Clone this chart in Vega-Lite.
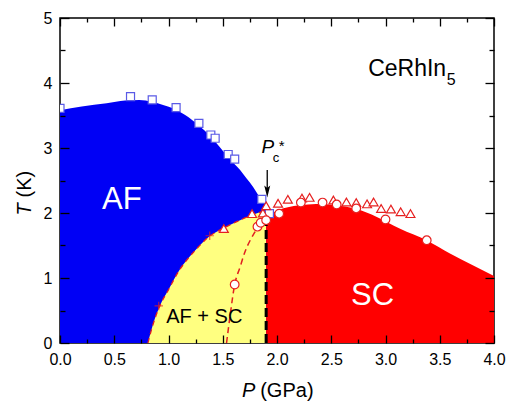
{
  "$schema": "https://vega.github.io/schema/vega-lite/v6.json",
  "width": 434,
  "height": 325,
  "autosize": "none",
  "padding": {"left": 60, "top": 18, "right": 15, "bottom": 59},
  "background": "white",
  "config": {
    "font": "Liberation Sans",
    "view": {"stroke": "black", "strokeWidth": 1.5},
    "axis": {"domain": false, "grid": false, "labelColor": "black", "tickColor": "black", "titleColor": "black", "labelFont": "Liberation Sans", "titleFont": "Liberation Sans", "titleFontWeight": "normal", "labelFlush": false, "labelOverlap": false, "tickWidth": 1.3}
  },
  "datasets": {
    "afTop": [{"P":0,"T":3.58},{"P":0.2,"T":3.64},{"P":0.43,"T":3.69},{"P":0.6,"T":3.73},{"P":0.73,"T":3.74},{"P":0.85,"T":3.71},{"P":0.95,"T":3.66},{"P":1.04,"T":3.61},{"P":1.15,"T":3.51},{"P":1.29,"T":3.33},{"P":1.38,"T":3.19},{"P":1.47,"T":3.02},{"P":1.56,"T":2.84},{"P":1.66,"T":2.66},{"P":1.72,"T":2.53},{"P":1.78,"T":2.4},{"P":1.83,"T":2.27},{"P":1.87,"T":2.17},{"P":1.92,"T":2.07}],
    "mixed": [{"P":0.81,"T":0},{"P":0.86,"T":0.3},{"P":0.92,"T":0.57},{"P":1.0,"T":0.82},{"P":1.1,"T":1.12},{"P":1.18,"T":1.3},{"P":1.26,"T":1.45},{"P":1.37,"T":1.63},{"P":1.51,"T":1.77},{"P":1.66,"T":1.89},{"P":1.77,"T":1.97},{"P":1.9,"T":2.04}],
    "sc": [{"P":1.9,"T":1.93},{"P":1.95,"T":1.99},{"P":2.02,"T":2.05},{"P":2.1,"T":2.09},{"P":2.21,"T":2.12},{"P":2.36,"T":2.14},{"P":2.55,"T":2.12},{"P":2.73,"T":2.06},{"P":2.92,"T":1.94},{"P":3.13,"T":1.76},{"P":3.39,"T":1.57},{"P":3.59,"T":1.38},{"P":3.8,"T":1.2},{"P":4.0,"T":1.03}],
    "dash2": [{"P":1.535,"T":0},{"P":1.57,"T":0.45},{"P":1.61,"T":0.9},{"P":1.66,"T":1.17},{"P":1.7,"T":1.38},{"P":1.79,"T":1.69},{"P":1.86,"T":1.87},{"P":1.9,"T":1.97}],
    "squares": [{"P":0.0,"T":3.61},{"P":0.65,"T":3.79},{"P":0.85,"T":3.74},{"P":1.07,"T":3.62},{"P":1.28,"T":3.38},{"P":1.39,"T":3.2},{"P":1.43,"T":3.15},{"P":1.55,"T":2.9},{"P":1.61,"T":2.83},{"P":1.86,"T":2.21},{"P":1.93,"T":1.99}],
    "triangles": [{"P":1.51,"T":1.76},{"P":1.77,"T":1.99},{"P":1.87,"T":2.0},{"P":1.9,"T":2.11},{"P":2.01,"T":2.15},{"P":2.1,"T":2.21},{"P":2.23,"T":2.23},{"P":2.3,"T":2.24},{"P":2.52,"T":2.2},{"P":2.64,"T":2.17},{"P":2.73,"T":2.16},{"P":2.83,"T":2.14},{"P":2.89,"T":2.17},{"P":2.96,"T":2.07},{"P":3.05,"T":2.06},{"P":3.14,"T":2.02},{"P":3.23,"T":1.99}],
    "circles": [{"P":1.61,"T":0.9},{"P":1.82,"T":1.79},{"P":1.85,"T":1.85},{"P":1.9,"T":1.89},{"P":2.02,"T":1.99},{"P":2.22,"T":2.16},{"P":2.42,"T":2.16},{"P":2.55,"T":2.13},{"P":2.73,"T":2.07},{"P":3.0,"T":1.9},{"P":3.38,"T":1.58}],
    "plus": [{"P":0.91,"T":0.57},{"P":1.38,"T":1.65}]
  },
  "layer": [
    {
      "data": {"name": "afTop"},
      "mark": {"type": "area", "color": "#0000f5", "interpolate": "monotone"},
      "encoding": {
        "x": {"field": "P", "type": "quantitative", "scale": {"domain": [0, 4], "nice": false, "zero": false},
          "axis": {"orient": "bottom", "zindex": 2, "values": [0,0.5,1,1.5,2,2.5,3,3.5,4],
            "tickSize": -8,
            "format": ".1f",
            "labelFontSize": 16, "labelPadding": 16,
            "title": "(GPa)", "titleFontSize": 20, "titleX": 199.7, "titleY": 53, "titleAlign": "left", "titleBaseline": "alphabetic"}},
        "y": {"field": "T", "type": "quantitative", "stack": null, "scale": {"domain": [0, 5], "nice": false},
          "axis": {"orient": "left", "zindex": 2, "values": [0,1,2,3,4,5],
            "tickSize": -9,
            "format": "d",
            "labelFontSize": 16, "labelPadding": 17,
            "title": "(K)", "titleFontSize": 20, "titleAngle": 270, "titleX": -30, "titleY": 179, "titleAlign": "left", "titleBaseline": "alphabetic"}}
      }
    },
    {
      "data": {"name": "mixed"},
      "mark": {"type": "area", "color": "#ffff80", "interpolate": "monotone"},
      "encoding": {
        "x": {"field": "P", "type": "quantitative",
          "axis": {"orient": "top", "zindex": 2, "values": [0,0.5,1,1.5,2,2.5,3,3.5,4],
            "tickSize": -8, "labels": false,
            "title": "P", "titleFontSize": 20, "titleFontStyle": "italic", "titleX": 181.4, "titleY": 378, "titleAlign": "left", "titleBaseline": "alphabetic"}},
        "y": {"field": "T", "type": "quantitative", "stack": null,
          "axis": {"orient": "right", "zindex": 2, "values": [0,1,2,3,4,5],
            "tickSize": -9, "labels": false,
            "title": "T", "titleFontSize": 20, "titleFontStyle": "italic", "titleAngle": 270, "titleX": -464, "titleY": 197, "titleAlign": "left", "titleBaseline": "alphabetic"}}
      }
    },
    {
      "data": {"name": "sc"},
      "mark": {"type": "area", "color": "#ff0000", "interpolate": "monotone"},
      "encoding": {
        "x": {"field": "P", "type": "quantitative",
          "axis": {"orient": "bottom", "zindex": 2, "values": [0.25,0.75,1.25,1.75,2.25,2.75,3.25,3.75], "tickSize": -4, "labels": false, "title": null}},
        "y": {"field": "T", "type": "quantitative", "stack": null,
          "axis": {"orient": "left", "zindex": 2, "values": [0.5,1.5,2.5,3.5,4.5], "tickSize": -5, "labels": false, "title": null}}
      }
    },
    {
      "data": {"name": "mixed"},
      "mark": {"type": "line", "color": "#e02020", "strokeWidth": 1.3, "strokeDash": [5, 4], "interpolate": "monotone"},
      "encoding": {
        "x": {"field": "P", "type": "quantitative",
          "axis": {"orient": "top", "zindex": 2, "values": [0.25,0.75,1.25,1.75,2.25,2.75,3.25,3.75], "tickSize": -4, "labels": false, "title": null}},
        "y": {"field": "T", "type": "quantitative",
          "axis": {"orient": "right", "zindex": 2, "values": [0.5,1.5,2.5,3.5,4.5], "tickSize": -5, "labels": false, "title": null}}
      }
    },
    {
      "data": {"name": "dash2"},
      "mark": {"type": "line", "color": "#e02020", "strokeWidth": 1.5, "strokeDash": [6, 4], "interpolate": "monotone"},
      "encoding": {
        "x": {"field": "P", "type": "quantitative", "axis": null},
        "y": {"field": "T", "type": "quantitative", "axis": null}
      }
    },
    {
      "data": {"values": [{"P": 1.9, "T": 0, "T2": 1.9}]},
      "mark": {"type": "rule", "color": "black", "strokeWidth": 3, "strokeDash": [9, 4]},
      "encoding": {
        "x": {"field": "P", "type": "quantitative", "axis": null},
        "y": {"field": "T", "type": "quantitative", "axis": null},
        "y2": {"field": "T2"}
      }
    },
    {
      "data": {"name": "squares"},
      "mark": {"type": "point", "shape": "square", "size": 64, "filled": true, "fill": "white", "stroke": "#5a5ae6", "strokeWidth": 1.2, "fillOpacity": 1, "clip": true},
      "encoding": {
        "x": {"field": "P", "type": "quantitative", "axis": null},
        "y": {"field": "T", "type": "quantitative", "axis": null}
      }
    },
    {
      "data": {"name": "triangles"},
      "mark": {"type": "point", "shape": "triangle-up", "size": 80, "filled": true, "fill": "white", "stroke": "#e62020", "strokeWidth": 1.2, "fillOpacity": 1},
      "encoding": {
        "x": {"field": "P", "type": "quantitative", "axis": null},
        "y": {"field": "T", "type": "quantitative", "axis": null}
      }
    },
    {
      "data": {"name": "circles"},
      "mark": {"type": "point", "shape": "circle", "size": 75, "filled": true, "fill": "white", "stroke": "#e62020", "strokeWidth": 1.2, "fillOpacity": 1},
      "encoding": {
        "x": {"field": "P", "type": "quantitative", "axis": null},
        "y": {"field": "T", "type": "quantitative", "axis": null}
      }
    },
    {
      "data": {"name": "plus"},
      "mark": {"type": "point", "shape": "M-1,0L1,0M0,-1L0,1", "size": 70, "filled": false, "stroke": "#e62020", "strokeWidth": 1.2},
      "encoding": {
        "x": {"field": "P", "type": "quantitative", "axis": null},
        "y": {"field": "T", "type": "quantitative", "axis": null}
      }
    },
    {
      "data": {"values": [{"P": 1.91, "T": 2.66, "T2": 2.36}]},
      "mark": {"type": "rule", "color": "black", "strokeWidth": 1.3},
      "encoding": {
        "x": {"field": "P", "type": "quantitative", "axis": null},
        "y": {"field": "T", "type": "quantitative", "axis": null},
        "y2": {"field": "T2"}
      }
    },
    {
      "data": {"values": [{"P": 1.91, "T": 2.33}]},
      "mark": {"type": "point", "shape": "M-0.5,-1L0,1L0.5,-1L0,-0.6Z", "size": 144, "filled": true, "color": "black", "opacity": 1},
      "encoding": {
        "x": {"field": "P", "type": "quantitative", "axis": null},
        "y": {"field": "T", "type": "quantitative", "axis": null}
      }
    },
    {
      "data": {"values": [{"P": 0.57, "T": 2.06, "label": "AF"}, {"P": 2.88, "T": 0.58, "label": "SC"}]},
      "mark": {"type": "text", "color": "white", "fontSize": 31, "align": "center", "baseline": "alphabetic"},
      "encoding": {
        "x": {"field": "P", "type": "quantitative", "axis": null},
        "y": {"field": "T", "type": "quantitative", "axis": null},
        "text": {"field": "label"}
      }
    },
    {
      "data": {"values": [{"P": 1.33, "T": 0.31, "label": "AF + SC"}]},
      "mark": {"type": "text", "color": "black", "fontSize": 20, "align": "center", "baseline": "alphabetic"},
      "encoding": {
        "x": {"field": "P", "type": "quantitative", "axis": null},
        "y": {"field": "T", "type": "quantitative", "axis": null},
        "text": {"field": "label"}
      }
    },
    {
      "data": {"values": [{"P": 2.84, "T": 4.11, "label": "CeRhIn"}]},
      "mark": {"type": "text", "color": "black", "fontSize": 23, "align": "left", "baseline": "alphabetic"},
      "encoding": {
        "x": {"field": "P", "type": "quantitative", "axis": null},
        "y": {"field": "T", "type": "quantitative", "axis": null},
        "text": {"field": "label"}
      }
    },
    {
      "data": {"values": [{"P": 3.565, "T": 3.97, "label": "5"}]},
      "mark": {"type": "text", "color": "black", "fontSize": 16, "align": "left", "baseline": "alphabetic"},
      "encoding": {
        "x": {"field": "P", "type": "quantitative", "axis": null},
        "y": {"field": "T", "type": "quantitative", "axis": null},
        "text": {"field": "label"}
      }
    },
    {
      "data": {"values": [{"P": 1.856, "T": 2.92, "label": "P"}]},
      "mark": {"type": "text", "color": "black", "fontSize": 19, "fontStyle": "italic", "align": "left", "baseline": "alphabetic"},
      "encoding": {
        "x": {"field": "P", "type": "quantitative", "axis": null},
        "y": {"field": "T", "type": "quantitative", "axis": null},
        "text": {"field": "label"}
      }
    },
    {
      "data": {"values": [{"P": 1.96, "T": 2.79, "label": "c"}]},
      "mark": {"type": "text", "color": "black", "fontSize": 13, "align": "left", "baseline": "alphabetic"},
      "encoding": {
        "x": {"field": "P", "type": "quantitative", "axis": null},
        "y": {"field": "T", "type": "quantitative", "axis": null},
        "text": {"field": "label"}
      }
    },
    {
      "data": {"values": [{"P": 2.016, "T": 2.96, "label": "*"}]},
      "mark": {"type": "text", "color": "black", "fontSize": 15, "align": "left", "baseline": "alphabetic"},
      "encoding": {
        "x": {"field": "P", "type": "quantitative", "axis": null},
        "y": {"field": "T", "type": "quantitative", "axis": null},
        "text": {"field": "label"}
      }
    }
  ],
  "resolve": {"axis": {"x": "independent", "y": "independent"}}
}
